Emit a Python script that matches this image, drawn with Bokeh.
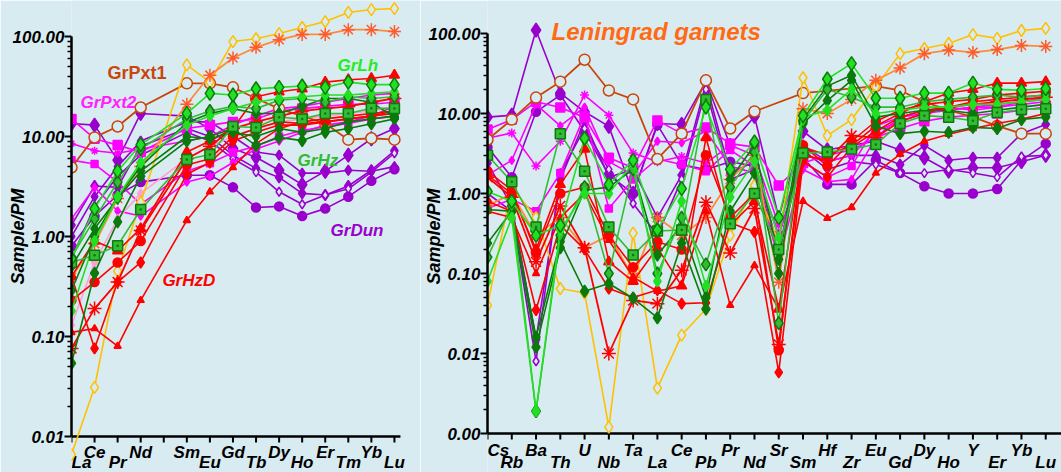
from bokeh.plotting import figure
from bokeh.models import FixedTicker, PrintfTickFormatter, Range1d, Label, ColumnDataSource
from bokeh.core.properties import value
from bokeh.layouts import row
from bokeh.embed import file_html
from bokeh.resources import INLINE

BG = "#d8ebf1"
FONT = "Liberation Sans"

# ---------------- data: left panel (REE, PM normalised) ----------------
left_ticks = ["La", "Ce", "Pr", "Nd", "Pm", "Sm", "Eu", "Gd", "Tb", "Dy", "Ho", "Er", "Tm", "Yb", "Lu"]
left_elements = ["La", "Ce", "Pr", "Nd", "Sm", "Eu", "Gd", "Tb", "Dy", "Ho", "Er", "Tm", "Yb", "Lu"]

l_yellow = [0.0066, 0.031, 0.45, 2.2, 52, 35, 89, 95, 107, 123, 141, 174, 186, 190]
l_orange = [0.39, 0.85, 2.4, 5.0, 21, 41, 61, 78, 93, 105, 105, 117, 117, 112]
l_brown = [4.9, 9.8, 12.6, 19.5, 34, 34, 31, 24, 19, 16, 13.5, 9.3, 9.6, 9.3]
l_mag1 = [15, 9.5, 8.2, 7.0, 12, 13, 14, 15, 18, 19, 20, 21, 21, 22]
l_mag2 = [5.8, 5.3, 3.5, 2.1, 4.5, 5.4, 6.9, 8.0, 10, 11.5, 12.5, 13.5, 15, 16]
l_mag3 = [8.5, 7.2, 6.8, 7.5, 9.0, 10, 13, 16, 19, 20, 22, 24, 26, 27]
l_mag4 = [1.5, 3.1, 1.8, 1.6, 3.5, 4.0, 5.5, 7.5, 9.0, 11, 13, 14, 16, 20]
l_pink = [0.13, 0.55, 1.5, 2.7, 6, 8, 10, 12, 14, 15, 16, 17, 18, 20]
l_pur1 = [13.5, 13, 5.8, 17, 16, 12, 7.6, 6.2, 4.6, 3.3, 4.5, 6.5, 9.5, 12]
l_pur2 = [0.8, 1.6, 2.6, 3.5, 4.1, 4.1, 3.1, 1.95, 2.0, 1.6, 1.9, 2.5, 3.6, 4.7]
l_pur3 = [1.3, 3.2, 3.1, 8, 12, 10, 6.5, 4.8, 3.9, 2.7, 2.6, 3.2, 4.6, 7.2]
l_pur4 = [0.6, 2.0, 4.0, 6.5, 11, 9, 6.0, 4.4, 2.8, 2.1, 2.6, 3.0, 4.4, 6.8]
l_pur5 = [1.0, 2.5, 5.0, 9.0, 14, 14, 10, 7, 6.5, 4.3, 4.3, 4.6, 4.5, 5.0]
l_grn1 = [0.6, 1.9, 4.5, 8.3, 17, 27, 26, 30, 31, 32, 31, 35, 33, 33]
l_grn2 = [0.55, 0.65, 0.81, 1.86, 5.9, 6.6, 12.6, 12.3, 15.6, 15, 17, 17, 19.2, 19]
l_grn3 = [0.054, 0.43, 1.4, 4.0, 9.0, 10, 12, 8.1, 9.8, 9.1, 11, 12, 13.4, 15]
l_grn4 = [0.29, 1.0, 2.5, 5.0, 13.8, 17, 19, 17, 17, 20, 24, 24, 22, 15.5]
l_grn5 = [0.18, 0.9, 2.5, 5.5, 13, 16, 19, 22, 24, 25, 26, 26, 27, 28]
l_grn6 = [0.62, 1.5, 3.5, 7.5, 15, 18, 20, 19, 23, 24, 22, 25, 24, 25]
l_grn7 = [0.5, 1.2, 2.4, 4.5, 10, 9.5, 11, 10, 12, 11, 12, 14, 15, 16]
l_red1 = [0.11, 0.12, 0.08, 0.23, 1.45, 2.8, 4.9, 8.5, 12, 14, 15, 16, 17, 18]
l_red2 = [0.4, 0.076, 0.35, 0.55, 4.2, 5.5, 9, 11, 13, 13, 14, 15, 16, 17]
l_red3 = [0.076, 0.19, 0.35, 1.15, 6, 8, 12, 14, 16, 18, 19, 20, 22, 24]
l_red4 = [0.4, 0.9, 0.72, 1.2, 7, 9, 12, 25, 28, 30, 35, 37, 38, 41]
l_red5 = [0.23, 0.35, 0.55, 0.9, 5.2, 6, 10, 12, 14, 13.5, 14, 15, 16, 18]

# ---------------- data: right panel (spider diagram) ----------------
right_elements = ["Cs", "Rb", "Ba", "Th", "U", "Nb", "Ta", "La", "Ce", "Pb", "Pr", "Nd",
                  "Sr", "Sm", "Hf", "Zr", "Eu", "Gd", "Dy", "Ho", "Y", "Er", "Yb", "Lu"]

r_yellow = [0.04, 1.2, 0.5, 0.065, 0.057, 0.0012, 0.32, 0.0037, 0.017, 0.036, 0.3, 1.26, 0.25, 28, 5.3, 8.4, 21.6, 56, 65, 75, 97, 87, 109, 116]
r_orange = [0.7, 1.0, 0.3, 0.5, 0.21, 0.3, 0.09, 0.5, 0.3, 0.5, 1.5, 3.0, 0.078, 11.5, 10, 15, 26, 37, 56, 62, 58, 63, 71, 69]
r_brown = [4.7, 8.4, 15.8, 25, 47, 19.4, 15, 2.7, 5.6, 26, 6.5, 10.6, None, 18, None, None, 22, 19.4, 14, 11, 9, 7, 5.6, 5.6]
r_mag1 = [6.3, 8.4, 14, 11.9, 8.9, 2.8, 2.1, 8.2, 5.6, 6.7, 4.2, 3.8, 1.26, 2.4, 3.0, 3.5, 5, 6.5, 8, 9, 9.5, 10, 11, 12]
r_mag2 = [4.9, 5.7, 2.2, 4.5, 17, 9.5, 3.2, 2.5, 2.9, 2.4, 4, 3, 0.4, 3, 2.5, 3, 6, 8, 10, 12, 11, 12, 14, 15]
r_mag3 = [1.7, 2.6, 13, 7, 12, 2.5, 1.7, 4.5, 4.3, 6, 2.2, 1.8, 0.15, 2, 1.4, 1.5, 5, 9, 10, 11, 12, 12, 13, 14]
r_mag4 = [0.65, 0.85, 0.6, 1.8, 9.5, 0.65, 1.5, 2.7, 2.3, 1.9, 3.5, 2.2, 0.3, 2.5, 1.6, 2.2, 7, 9, 11, 11, 12, 13, 14, 16]
r_pur1 = [9, 9.5, 110, 18, 10.5, 6.9, 1.0, 7.5, 7.3, 25, 4, 9.2, 0.5, 6, 3.5, 4, 4.5, 3.5, 2.8, 1.9, 2.1, 2.1, 2.5, 3.0]
r_pur2 = [3.8, 1.6, 10.5, 17, 6, 1.7, 1.0, 7.2, 2.3, 2.0, 2.5, 2.2, 0.3, 2.8, 1.3, 1.3, 2.6, 1.8, 1.23, 1.0, 1.0, 1.14, 2.6, 4.2]
r_pur3 = [2.4, 0.7, 0.015, 1.5, 8, 1.6, 2.0, 0.5, 1.7, 24, 1.8, 2.5, 0.2, 4.0, 2.5, 3.0, 3.0, 2.3, 4.0, 2.6, 2.8, 2.8, 5.6, 7.3]
r_pur4 = [1.0, 0.6, 0.008, 1.8, 6.5, 2.0, 0.75, 0.3, 1.5, 20, 1.5, 2.0, 0.18, 3.5, 2.0, 2.5, 2.3, 1.8, 1.8, 2.0, 1.8, 1.6, 2.9, 3.0]
r_grn1 = [1.06, 0.8, 0.3, 0.4, 4.9, 1.3, 2.6, 0.35, 1.15, 12, 2, 4.4, 0.5, 9.4, 27, 42, 15.5, 15.5, 18, 18, 24, 20, 19.5, 20.5]
r_grn2 = [3.0, 1.4, 0.38, 5.6, 1.9, 0.38, 0.17, 0.34, 0.35, 15, 0.42, 1.0, 0.2, 3.2, 3.3, 3.6, 4.1, 7.5, 9.4, 9, 8.1, 10.3, 11.2, 11.5]
r_grn3 = [0.24, 0.6, 0.016, 0.25, 0.06, 0.075, 0.049, 0.028, 0.24, 0.036, 0.6, 1.8, 0.1, 7.5, 14.5, 26, 7, 5.6, 6, 5.8, 6.7, 6.5, 8.4, 9]
r_grn4 = [0.16, 0.7, 0.0019, 0.3, 1.2, 0.1, 2.0, 0.1, 0.5, 0.13, 1.2, 3.3, 0.024, 8, 20, 16, 12, 12, 14, 15, 16, 17, 16, 17]
r_grn5 = [0.08, 0.5, 0.0019, 0.35, 1.0, 1.0, 2.4, 0.08, 0.8, 0.07, 0.9, 2.5, 0.28, 9, 11, 20, 10, 11, 12, 12, 13, 13, 14, 15]
r_grn6 = [0.63, 0.6, 0.012, 0.21, 1.1, 1.2, 2.0, 0.17, 0.4, 0.05, 1.5, 4, 0.15, 8.5, 22, 30, 9, 10, 11, 11, 10, 11, 12, 13]
r_red1 = [1.7, 1.0, 0.2, 1.3, 3.6, 0.14, 0.08, 0.21, 0.07, 5, 0.4, 0.8, 0.036, 3.8, 3, 4, 7, 10, 14, 18, 20, 24, 24, 25]
r_red2 = [1.6, 0.9, 0.14, 0.7, 0.21, 0.01, 0.046, 0.042, 0.11, 0.78, 0.18, 0.65, 0.013, 3.0, 2.6, 5.3, 5, 8, 10, 12, 13, 14, 15, 16]
r_red3 = [0.8, 0.6, 0.035, 0.4, 0.2, 0.065, 0.05, 0.062, 0.042, 0.043, 0.43, 0.33, 0.0058, 2.5, 1.6, 3.8, 6, 9, 11, 12, 14, 15, 16, 17]
r_red4 = [0.6, 0.5, 0.1, 0.5, 1.0, 0.26, 0.09, 0.06, 0.07, 0.6, 0.04, 0.126, 0.036, 0.8, 0.49, 0.67, 1.8, 3.1, 4.5, 5.5, 6.5, 7.5, 8.5, 10]
r_red5 = [1.9, 1.1, 0.18, 1.0, 1.2, 0.3, 0.12, 0.25, 0.2, 3, 0.5, 1.0, 0.011, 4, 2.2, 4.5, 8, 11, 13, 14, 15, 17, 18, 19]

# ---------------- styles ----------------
YEL = "#ffc000"; ORA = "#ff8a3a"; ORM = "#ff5a2a"; BRN = "#c8460a"
MAG = "#ff00ff"; PNK = "#ff9fd0"; PUR = "#9900cc"; RED = "#ff0000"
GRB = "#22e022"; GRM = "#33bb33"; GRD = "#0a7a0a"


def left_series():
    return [
        (l_pur1, PUR, "diamond", 14, PUR, PUR, 1.6),
        (l_pur2, PUR, "circle", 9, PUR, PUR, 1.6),
        (l_pur3, PUR, "diamond", 11, PUR, PUR, 1.6),
        (l_pur4, PUR, "diamond", 9, BG, PUR, 1.6),
        (l_pur5, PUR, "diamond", 10, PUR, PUR, 1.6),
        (l_mag1, MAG, "square", 9, MAG, MAG, 1.6),
        (l_mag2, MAG, "square", 7, MAG, MAG, 1.6),
        (l_mag3, MAG, "asterisk", 8, MAG, MAG, 1.6),
        (l_mag4, MAG, "diamond", 8, MAG, MAG, 1.6),
        (l_pink, PNK, "diamond", 9, PNK, PNK, 1.6),
        (l_brown, BRN, "circle", 11, BG, BRN, 1.8),
        (l_yellow, YEL, "diamond", 12, BG, YEL, 1.6),
        (l_orange, ORA, "asterisk", 13, ORM, ORM, 1.8),
        (l_red1, RED, "triangle", 7, RED, RED, 1.6),
        (l_red2, RED, "diamond", 11, RED, RED, 1.6),
        (l_red3, RED, "asterisk", 14, RED, RED, 1.8),
        (l_red4, RED, "triangle", 10, RED, RED, 1.6),
        (l_red5, RED, "circle", 9, RED, RED, 1.6),
        (l_grn7, GRD, "diamond", 11, GRD, GRD, 1.6),
        (l_grn3, GRD, "diamond", 12, GRD, GRD, 1.6),
        (l_grn4, GRD, "diamond", 12, GRD, GRD, 1.6),
        (l_grn6, GRM, "diamond", 13, GRM, GRD, 1.6),
        (l_grn5, GRB, "diamond", 11, GRB, GRB, 1.6),
        (l_grn2, GRM, "square_dot", 10, GRM, GRD, 1.6),
        (l_grn1, GRB, "diamond", 14, GRB, GRD, 1.6),
    ]


def right_series():
    return [
        (r_pur1, PUR, "diamond", 14, PUR, PUR, 1.6),
        (r_pur2, PUR, "circle", 9, PUR, PUR, 1.6),
        (r_pur3, PUR, "diamond", 11, PUR, PUR, 1.6),
        (r_pur4, PUR, "diamond", 9, BG, PUR, 1.6),
        (r_mag1, MAG, "square", 9, MAG, MAG, 1.6),
        (r_mag2, MAG, "asterisk", 9, MAG, MAG, 1.6),
        (r_mag3, MAG, "diamond", 8, MAG, MAG, 1.6),
        (r_mag4, MAG, "square", 7, MAG, MAG, 1.6),
        (r_brown, BRN, "circle", 11, BG, BRN, 1.8),
        (r_yellow, YEL, "diamond", 12, BG, YEL, 1.6),
        (r_orange, ORA, "asterisk", 13, ORM, ORM, 1.8),
        (r_red4, RED, "triangle", 7, RED, RED, 1.6),
        (r_red3, RED, "diamond", 11, RED, RED, 1.6),
        (r_red2, RED, "asterisk", 14, RED, RED, 1.8),
        (r_red1, RED, "triangle", 10, RED, RED, 1.6),
        (r_red5, RED, "circle", 9, RED, RED, 1.6),
        (r_grn3, GRD, "diamond", 12, GRD, GRD, 1.6),
        (r_grn6, GRD, "diamond", 12, GRD, GRD, 1.6),
        (r_grn4, GRM, "diamond", 13, GRM, GRD, 1.6),
        (r_grn5, GRB, "diamond", 11, GRB, GRB, 1.6),
        (r_grn2, GRM, "square_dot", 10, GRM, GRD, 1.6),
        (r_grn1, GRB, "diamond", 14, GRB, GRD, 1.6),
    ]


def make_fig(width, border_left, border_right, xr, yr):
    p = figure(width=width, height=472, y_axis_type="log",
               x_range=Range1d(*xr), y_range=Range1d(*yr),
               output_backend="svg", toolbar_location=None,
               min_border_left=border_left, min_border_right=border_right,
               min_border_top=0, min_border_bottom=0,
               background_fill_color=BG, border_fill_color=BG)
    p.outline_line_color = None
    p.grid.visible = False
    p.xaxis.visible = False
    ax = p.yaxis[0]
    ax.axis_line_width = 2.5
    ax.axis_line_color = "black"
    ax.major_tick_line_width = 2
    ax.minor_tick_line_width = 1.5
    ax.major_tick_line_color = "black"
    ax.minor_tick_line_color = "black"
    ax.major_tick_in = 0
    ax.minor_tick_in = 0
    ax.major_label_text_font = FONT
    ax.major_label_text_font_style = "bold italic"
    ax.major_label_text_font_size = "17px"
    ax.major_label_text_color = "black"
    return p


def style_yaxis(p, lo_exp, hi_exp, title_standoff):
    majors = [10.0 ** e for e in range(lo_exp, hi_exp + 1)]
    minors = [m * 10.0 ** e for e in range(lo_exp, hi_exp) for m in range(2, 10)]
    ax = p.yaxis[0]
    ax.ticker = FixedTicker(ticks=majors, minor_ticks=minors)
    ax.formatter = PrintfTickFormatter(format="%.2f")
    ax.bounds = (majors[0], majors[-1])
    ax.major_tick_out = 7
    ax.minor_tick_out = 4
    ax.major_label_standoff = 0
    ax.axis_label = "Sample/PM"
    ax.axis_label_text_font = FONT
    ax.axis_label_text_font_style = "bold italic"
    ax.axis_label_text_font_size = "18px"
    ax.axis_label_text_color = "black"
    ax.axis_label_standoff = title_standoff


def category_axis(p, ticks, labels_high, base, axis_end, tick_end, y_high, y_low):
    """Horizontal category axis drawn at the log-axis base value."""
    p.segment(x0=[0], y0=[base], x1=[axis_end], y1=[base], line_color="black", line_width=2.5)
    idx = list(range(len(ticks)))
    p.segment(x0=idx, y0=[base] * len(idx), x1=idx, y1=[tick_end] * len(idx),
              line_color="black", line_width=2)
    shown = [i for i, t in enumerate(ticks) if t != "Pm"]
    for align, sel in (("left", [i for i in shown if i == 0]),
                       ("center", [i for i in shown if i != 0])):
        src = ColumnDataSource(dict(
            x=sel,
            y=[y_high if labels_high(i) else y_low for i in sel],
            t=[ticks[i] for i in sel]))
        p.text("x", "y", text="t", source=src, text_font=value(FONT),
               text_font_style="bold italic", text_font_size="17px", text_color="black",
               text_align=align, text_baseline="alphabetic")


def draw(p, xs, series):
    for vals, lc, mk, size, fill, mline, lw in series:
        pts = [(x, v) for x, v in zip(xs, vals) if v is not None]
        src = ColumnDataSource(dict(x=[a for a, _ in pts], y=[b for _, b in pts]))
        p.line("x", "y", source=src, line_color=lc, line_width=lw)
        p.scatter("x", "y", source=src, marker=mk, size=size,
                  fill_color=fill, line_color=mline, line_width=1.5)


def group_label(p, x, y, text, color, style="bold italic", size="17px"):
    p.add_layout(Label(x=x, y=y, text=text, text_color=color, text_font=FONT,
                       text_font_style=style, text_font_size=size,
                       text_baseline="alphabetic", text_align="left"))


# ---------------- left figure ----------------
left = make_fig(420, 71, 0, (0, 15.13), (10 ** -2.36, 10 ** 2.36))
style_yaxis(left, -2, 2, -18)
high_left = {"Ce", "Nd", "Sm", "Gd", "Dy", "Er", "Yb"}
category_axis(left, left_ticks, lambda i: left_ticks[i] in high_left,
              0.01, 14.26, 10 ** -2.06, 10 ** -2.16, 10 ** -2.26)
left_x = [left_ticks.index(e) for e in left_elements]
draw(left, left_x, left_series())

group_label(left, 1.56, 42.7, "GrPxt1", BRN, style="bold", size="18px")
group_label(left, 0.39, 21.9, "GrPxt2", "#ff22ff")
group_label(left, 11.53, 51, "GrLh", "#22ee22")
group_label(left, 9.8, 5.75, "GrHz", "#33bb33")
group_label(left, 11.23, 1.15, "GrDun", PUR)
group_label(left, 3.94, 0.363, "GrHzD", RED)

# ---------------- right figure ----------------
right = make_fig(641, 58, 0, (0, 23.65), (10 ** -3.4875, 10 ** 2.4125))
style_yaxis(right, -3, 2, -18)
category_axis(right, right_elements, lambda i: i % 2 == 0,
              0.001, 23.65, 10 ** -3.075, 10 ** -3.2125, 10 ** -3.3625)
draw(right, list(range(len(right_elements))), right_series())
group_label(right, 2.64, 106, "Leningrad garnets", "#ff6a13", size="24px")

layout = row(left, right)
open("out.html", "w").write(file_html(layout, INLINE))
